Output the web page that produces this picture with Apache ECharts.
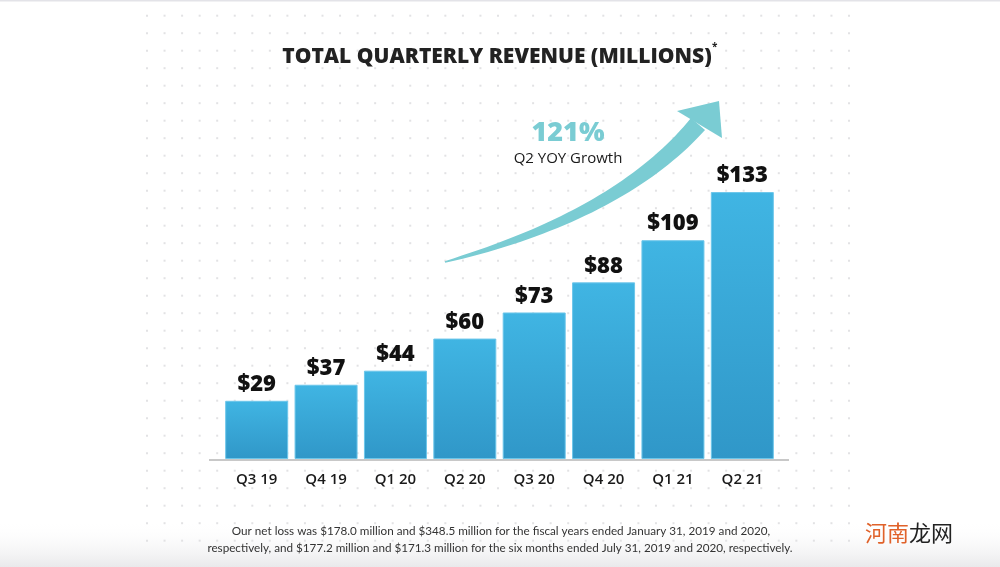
<!DOCTYPE html>
<html><head><meta charset="utf-8">
<script src="https://cdn.jsdelivr.net/npm/echarts@6/dist/echarts.min.js"></script>
<style>html,body{margin:0;padding:0;background:#fff}#c{width:1000px;height:567px}</style>
</head><body><div id="c"></div>
<script>
const categories = ['Q3 19','Q4 19','Q1 20','Q2 20','Q3 20','Q4 20','Q1 21','Q2 21'];
const revenue = [29, 37, 44, 60, 73, 88, 109, 133];
const titleText = 'TOTAL QUARTERLY REVENUE (MILLIONS)';
const growthText = '121%';
const growthSub = 'Q2 YOY Growth';
const footnote1 = 'Our net loss was $178.0 million and $348.5 million for the fiscal years ended January 31, 2019 and 2020,';
const footnote2 = 'respectively, and $177.2 million and $171.3 million for the six months ended July 31, 2019 and 2020, respectively.';

const chart = echarts.init(document.getElementById('c'), null, {renderer:'canvas'});

const bg = [];
bg.push({type:'rect', z:-10, shape:{x:0,y:520,width:1000,height:47}, style:{fill:new echarts.graphic.LinearGradient(0,0,0,1,[{offset:0,color:'rgba(255,255,255,0)'},{offset:1,color:'#e9e9eb'}])}, silent:true});
for (let yy = 15.7; yy < 545; yy += 17.5) {
  for (let xx = 147; xx < 852; xx += 17.55) {
    bg.push({type:'rect', z:-5, shape:{x:xx-1, y:yy-1, width:2, height:2}, style:{fill:'#e2e2e4'}, silent:true});
  }
}
bg.push({type:'rect', z:-4, shape:{x:0,y:0,width:1000,height:1.5}, style:{fill:'#e3e3e8'}, silent:true});

function arrowShape() {
  const P0=[445,262], P1=[620,215], P2=[698,124];
  const N=40, left=[], right=[];
  for (let i=0;i<=N;i++){
    const t=i/N;
    const x=(1-t)*(1-t)*P0[0]+2*t*(1-t)*P1[0]+t*t*P2[0];
    const y=(1-t)*(1-t)*P0[1]+2*t*(1-t)*P1[1]+t*t*P2[1];
    const dx=2*(1-t)*(P1[0]-P0[0])+2*t*(P2[0]-P1[0]);
    const dy=2*(1-t)*(P1[1]-P0[1])+2*t*(P2[1]-P1[1]);
    const L=Math.hypot(dx,dy), nx=-dy/L, ny=dx/L;
    const w=(1.5+17*Math.pow(t,0.75))/2;
    left.push([x+nx*w,y+ny*w]); right.push([x-nx*w,y-ny*w]);
  }
  return left.concat(right.reverse());
}
bg.push({type:'polygon', z:1, shape:{points:arrowShape()}, style:{fill:'#7accd3'}, silent:true});
bg.push({type:'polygon', z:1, shape:{points:[[677,111],[719,101],[722,138]]}, style:{fill:'#7accd3'}, silent:true});

bg.push({type:'text', x:497, y:57, style:{text:titleText, font:'800 21px "Open Sans"', fill:'#222', align:'center', verticalAlign:'middle'}, z:5});
bg.push({type:'text', x:712, y:47, style:{text:'*', font:'700 10px "Open Sans"', fill:'#222', align:'left', verticalAlign:'middle'}, z:5});
bg.push({type:'text', x:568, y:133, style:{text:growthText, font:'800 27px "Open Sans"', fill:'#7accd3', align:'center', verticalAlign:'middle'}, z:5});
bg.push({type:'text', x:568, y:159, style:{text:growthSub, font:'500 15px "Open Sans"', fill:'#1a1a1a', align:'center', verticalAlign:'middle'}, z:5});
bg.push({type:'text', x:501, y:531, style:{text:footnote1, font:'11.7px Lato', fill:'#333', align:'center', verticalAlign:'middle'}, z:5});
bg.push({type:'text', x:500, y:548, style:{text:footnote2, font:'11.7px Lato', fill:'#333', align:'center', verticalAlign:'middle'}, z:5});
bg.push({type:'text', x:865, y:533, style:{rich:{a:{fill:'#e0622a',font:'22px "Noto Sans CJK SC"'},b:{fill:'#222',font:'22px "Noto Sans CJK SC"'}}, text:'{a|河南}{b|龙网}', verticalAlign:'middle'}, z:5});

chart.setOption({
  animation:false,
  backgroundColor:'#fff',
  grid:{left:222, right:223, top:178, bottom:108},
  xAxis:{type:'category', data:categories, axisLine:{show:false}, axisTick:{show:false},
    axisLabel:{color:'#1a1a1a', fontFamily:'Open Sans', fontWeight:600, fontSize:15, margin:13}},
  yAxis:{type:'value', min:0, max:140, show:false, splitLine:{show:false}},
  series:[{type:'bar', data:revenue, barWidth:63,
    itemStyle:{color:new echarts.graphic.LinearGradient(0,0,0,1,[{offset:0,color:'#40b5e3'},{offset:1,color:'#3097c8'}]),
      borderColor:'#6cc6ea', borderWidth:1},
    label:{show:true, position:'top', distance:5, formatter:p=>'$'+p.value, color:'#111', fontFamily:'Open Sans', fontWeight:800, fontSize:22}}],
  graphic:bg
});
const y0 = chart.convertToPixel({yAxisIndex:0}, 0);
bg.push({type:'line', z:3, shape:{x1:209,y1:y0+1,x2:789,y2:y0+1}, style:{stroke:'#c8c8c8', lineWidth:2}, silent:true});
chart.setOption({graphic:bg});
</script></body></html>
